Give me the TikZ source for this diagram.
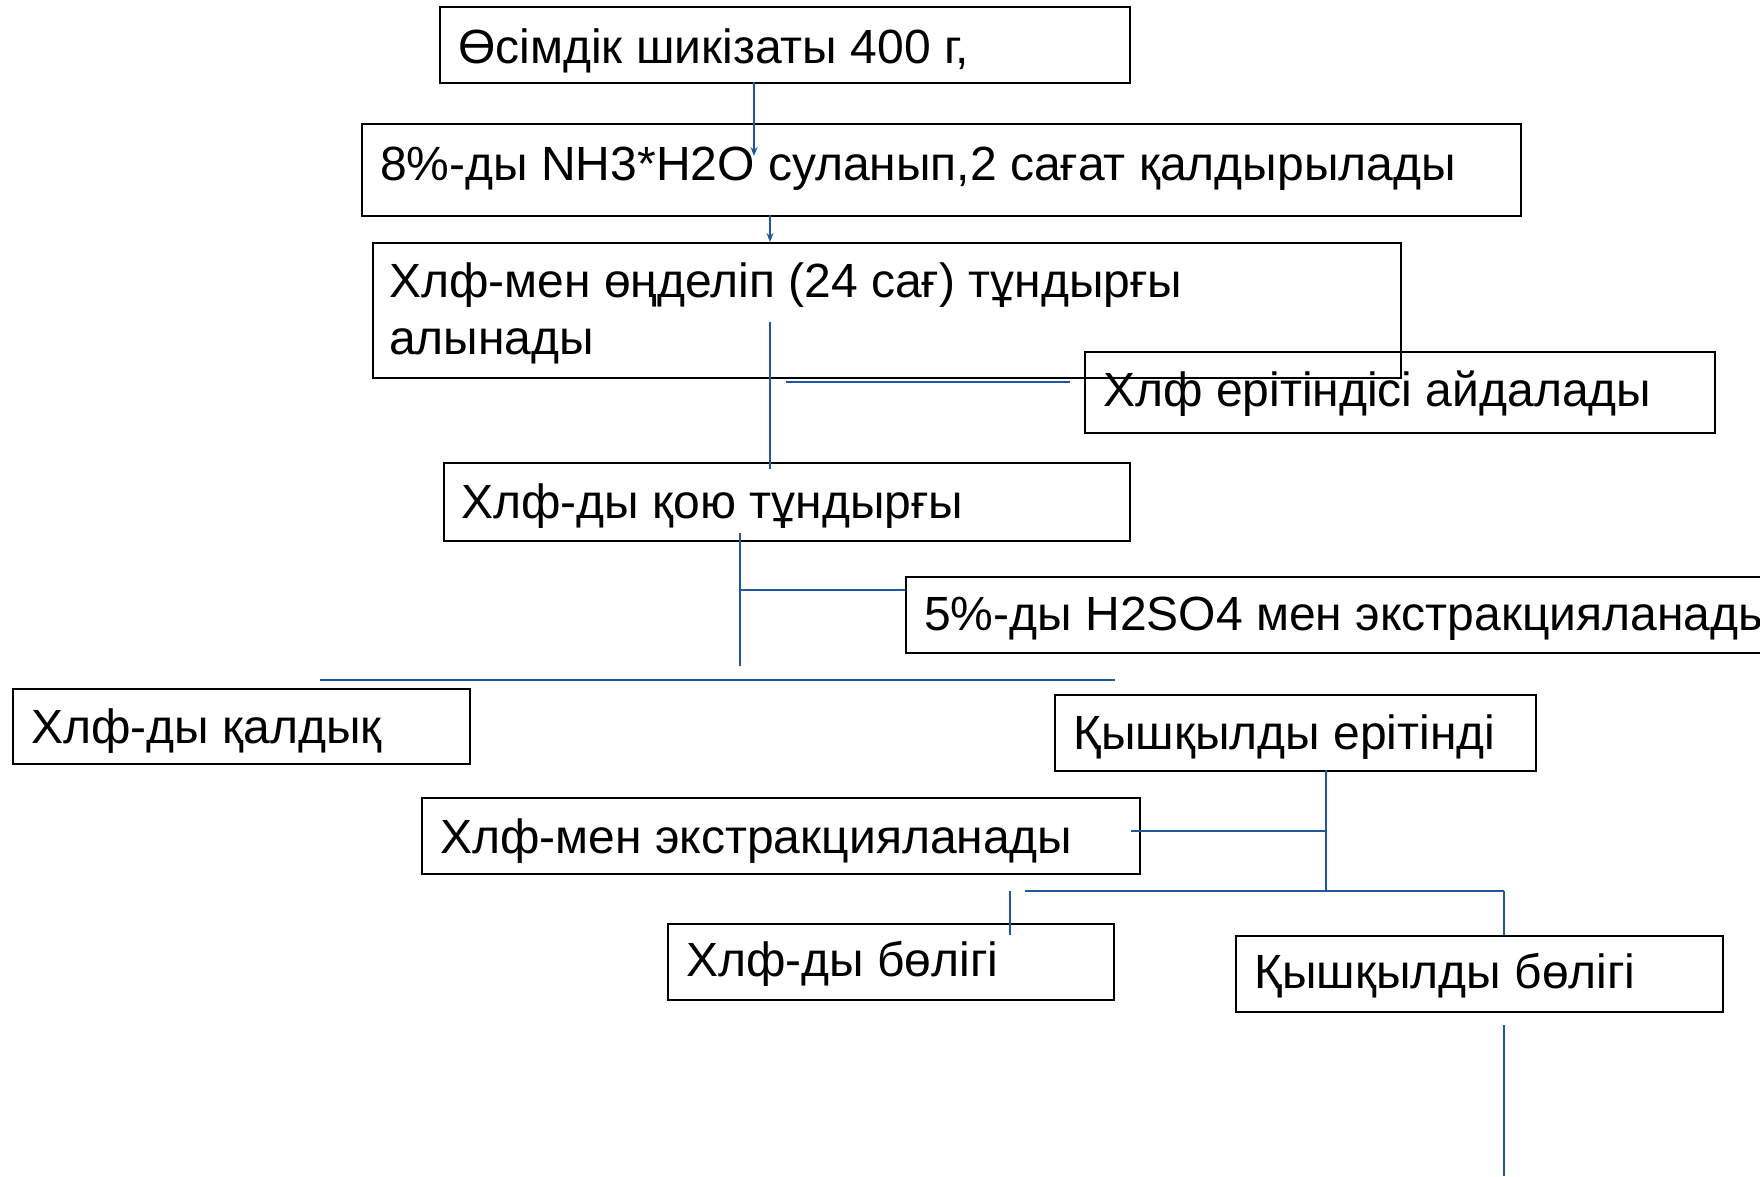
\documentclass[tikz,border=0pt]{standalone}
\usepackage{fontspec}
\setmainfont{Liberation Sans}
\usetikzlibrary{arrows.meta}
\definecolor{lineblue}{RGB}{31,88,158}
\tikzset{
  boxst/.style={draw=black, line width=2.4pt, fill=none, rectangle, inner sep=0pt},
  txt/.style={anchor=base west, inner sep=0pt, font=\fontsize{48}{56}\selectfont},
  conn/.style={draw=lineblue, line width=1.4pt},
  connthick/.style={draw=lineblue, line width=2.4pt},
  arr/.style={conn, -{Stealth[length=9pt,width=7pt]}}
}
\begin{document}
\begin{tikzpicture}[x=1pt,y=-1pt]
\useasboundingbox (0,0) rectangle (1760,1176);
\clip (0,0) rectangle (1760,1176);
\fill[white] (0,0) rectangle (1760,1176);
% boxes
\newcommand{\mybox}[5]{\node[boxst, anchor=north west, minimum width=#4-#2, minimum height=#5-#3] (#1) at (#2,#3) {};}
\mybox{A}{439}{6}{1129}{82}
\mybox{B}{361}{123}{1520}{215}
\mybox{C}{372}{242}{1400}{377}
\mybox{D}{1084}{351}{1714}{432}
\mybox{E}{443}{462}{1129}{540}
\mybox{F}{905}{576}{1790}{652}
\mybox{G}{12}{688}{469}{763}
\mybox{H}{1054}{694}{1535}{770}
\mybox{I}{421}{797}{1139}{873}
\mybox{J}{667}{923}{1113}{999}
\mybox{K}{1235}{935}{1722}{1011}
% texts
\node[txt] (tA) at (458,63) {Өсімдік шикізаты 400 г,};
\node[txt] (tB) at (380,180) {8\%-ды NH3*H2O суланып,2 сағат қалдырылады};
\node[txt] (tC1) at (389,297) {Хлф-мен өңделіп (24 сағ) тұндырғы};
\node[txt] (tC2) at (389,354) {алынады};
\node[txt] (tD) at (1103,406) {Хлф ерітіндісі айдалады};
\node[txt] (tE) at (461,518) {Хлф-ды қою тұндырғы};
\node[txt] (tF) at (924,630) {5\%-ды H2SO4 мен экстракцияланады};
\node[txt] (tG) at (31,743) {Хлф-ды қалдық};
\node[txt] (tH) at (1073,749) {Қышқылды ерітінді};
\node[txt] (tI) at (440,853) {Хлф-мен экстракцияланады};
\node[txt] (tJ) at (686,976) {Хлф-ды бөлігі};
\node[txt] (tK) at (1254,988) {Қышқылды бөлігі};
% connector coordinates
\coordinate (a1) at (754,82);  \coordinate (a2) at (754,156);
\coordinate (b1) at (770,215); \coordinate (b2) at (770,242);
\coordinate (c1) at (770,322); \coordinate (c2) at (770,469);
\coordinate (d1) at (786,382); \coordinate (d2) at (1070,382);
\coordinate (e1) at (740,533); \coordinate (e2) at (740,666);
\coordinate (f1) at (740,590); \coordinate (f2) at (905,590);
\coordinate (g1) at (320,680); \coordinate (g2) at (1115,680);
\coordinate (h1) at (1326,770); \coordinate (h2) at (1326,891);
\coordinate (i1) at (1131,831); \coordinate (i2) at (1326,831);
\coordinate (j1) at (1025,891); \coordinate (j2) at (1504,891);
\coordinate (k1) at (1010,891); \coordinate (k2) at (1010,935);
\coordinate (l1) at (1504,891); \coordinate (l2) at (1504,935);
\coordinate (m1) at (1504,1025); \coordinate (m2) at (1504,1176);
% connectors
\draw[arr] (a1) -- (a2);
\draw[arr] (b1) -- (b2);
\draw[conn] (c1) -- (c2);
\draw[connthick] (d1) -- (d2);
\draw[conn] (e1) -- (e2);
\draw[connthick] (f1) -- (f2);
\draw[connthick] (g1) -- (g2);
\draw[conn] (h1) -- (h2);
\draw[conn] (i1) -- (i2);
\draw[connthick] (j1) -- (j2);
\draw[conn] (k1) -- (k2);
\draw[conn] (l1) -- (l2);
\draw[conn] (m1) -- (m2);
\end{tikzpicture}
\end{document}
